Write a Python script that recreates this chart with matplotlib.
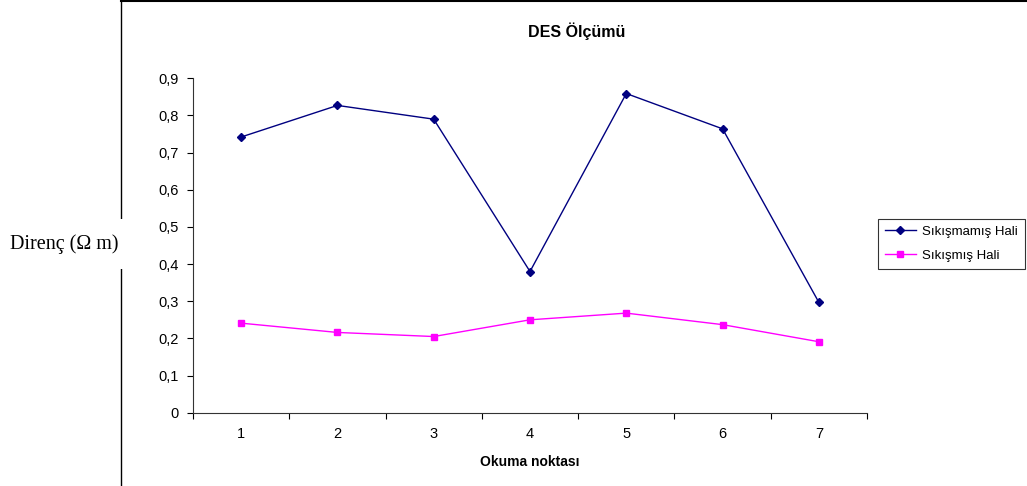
import matplotlib
matplotlib.use("Agg")
import matplotlib.pyplot as plt
from matplotlib.lines import Line2D

# Measurement data
points = [1, 2, 3, 4, 5, 6, 7]
sikismamis = [0.742, 0.827, 0.790, 0.380, 0.859, 0.764, 0.297]
sikismis = [0.241, 0.216, 0.205, 0.250, 0.268, 0.237, 0.191]
y_ticks = [0, 0.1, 0.2, 0.3, 0.4, 0.5, 0.6, 0.7, 0.8, 0.9]
y_tick_labels = ["0", "0,1", "0,2", "0,3", "0,4", "0,5", "0,6", "0,7", "0,8", "0,9"]

W, H = 1027, 486
fig = plt.figure(figsize=(W / 100, H / 100), dpi=100)
plt.rcParams['font.family'] = ['Liberation Sans', 'DejaVu Sans']

ax = fig.add_axes([193 / W, 1 - 412.7 / H, (867 - 193) / W, (412.7 - 78.3) / H])

ax.plot(points, sikismamis, color="#000080", lw=1.0, marker="D", ms=4.5,
        label="Sıkışmamış Hali")
ax.plot(points, sikismis, color="#FF00FF", lw=1.0, marker="s", ms=5,
        label="Sıkışmış Hali")

ax.set_xlim(0.5, 7.5)
ax.set_ylim(0, 0.9)
ax.set_yticks(y_ticks)
ax.set_yticklabels(y_tick_labels)
ax.set_xticks(points)
ax.set_xticks([p + 0.5 for p in [0] + points], minor=True)
ax.tick_params(axis="x", which="major", length=0, pad=10, labelsize=10.5)
ax.tick_params(axis="x", which="minor", length=4, direction="out", width=0.8)
ax.tick_params(axis="y", length=4, direction="out", width=0.8, labelsize=10.5, pad=6)
for s in ("top", "right"):
    ax.spines[s].set_visible(False)
for s in ("left", "bottom"):
    ax.spines[s].set_linewidth(0.8)
    ax.spines[s].set_color("#333333")

fig.text(577 / W, 1 - 31 / H, "DES Ölçümü", ha="center", va="center",
         fontsize=11.5, fontweight="bold")
fig.text(530 / W, 1 - 462 / H, "Okuma noktası", ha="center", va="center",
         fontsize=10, fontweight="bold")

# Chart area border (left and top edges)
fig.add_artist(Line2D([121 / W, 121 / W], [0, 1 - 1.5 / H], color="black", lw=1.0,
                      transform=fig.transFigure))
fig.add_artist(Line2D([121 / W, 1], [1 - 1.5 / H, 1 - 1.5 / H], color="black", lw=1.5,
                      transform=fig.transFigure))

fig.text(64 / W, 1 - 244 / H, "Direnç (Ω m)", ha="center", va="center",
         fontsize=14.5, family=["Liberation Serif", "DejaVu Serif"],
         bbox=dict(facecolor="white", edgecolor="none", pad=11))

leg = fig.legend(loc="upper left", bbox_to_anchor=(878 / W, 1 - 219 / H),
                 fontsize=9.5, frameon=True, fancybox=False, edgecolor="black",
                 handlelength=2.4, handletextpad=0.45, borderpad=0.5,
                 labelspacing=0.9, borderaxespad=0)
leg.get_frame().set_linewidth(0.8)

fig.savefig("out.png", dpi=100)
